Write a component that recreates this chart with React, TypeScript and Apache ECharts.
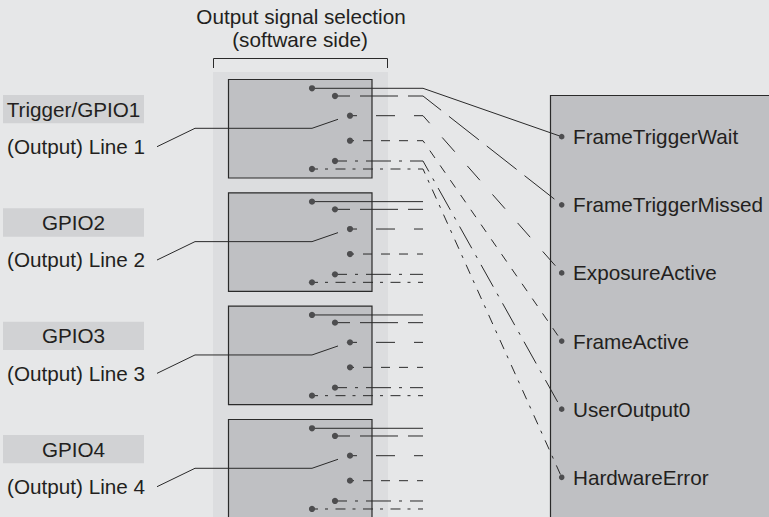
import React, { useEffect, useRef } from "react";
import * as echarts from "echarts";

// ---- content ----
const titleLines = ["Output signal selection", "(software side)"];
const pinLabels = ["Trigger/GPIO1", "GPIO2", "GPIO3", "GPIO4"];
const lineLabels = ["(Output) Line 1", "(Output) Line 2", "(Output) Line 3", "(Output) Line 4"];
const signalNames = [
  "FrameTriggerWait",
  "FrameTriggerMissed",
  "ExposureActive",
  "FrameActive",
  "UserOutput0",
  "HardwareError",
];

export default function App() {
  const ref = useRef<HTMLDivElement>(null);

  useEffect(() => {
    if (!ref.current) return;
    const chart = echarts.init(ref.current, null, { renderer: "svg" });

    const ink = "#2a2a2a";
    const textColor = "#231f20";
    const fontFamily = '"Liberation Sans", Arial, Helvetica, sans-serif';
    const fs = 20.7;

    // layout
    const boxTop0 = 79;
    const boxPitch = 113.33;
    const boxX = 228.5;
    const boxW = 143.5;
    const boxH = 98.5;
    const dotOffsets = [
      [312, 9.3],
      [335, 17],
      [350, 36.7],
      [350, 61.7],
      [335, 82],
      [312, 90],
    ];
    const lineEndX = 423;
    const rightDotX = 561.7;
    const rightDotY0 = 136.7;
    const rightPitch = 68.12;
    const dashStyles: any[] = [
      null,
      { d: [38, 10], o: 23 },
      { d: [19, 19], o: 12 },
      { d: [9, 9], o: 5 },
      { d: [25, 8, 3, 8], o: 13 },
      { d: [10, 7, 3, 7.5], o: 3.5 },
    ];

    const txt = (text: string, x: number, y: number, align: string) => ({
      type: "text",
      x,
      y,
      silent: true,
      style: {
        text,
        x: 0,
        y: 0,
        fill: textColor,
        fontSize: fs,
        fontFamily,
        align,
        verticalAlign: "middle",
        textAlign: align,
        textVerticalAlign: "middle",
      },
    });

    const els: any[] = [];

    // shaded column
    els.push({
      type: "rect",
      silent: true,
      shape: { x: 213, y: 72, width: 175, height: 460 },
      style: { fill: "#dcdddf" },
    });

    // bracket
    els.push({
      type: "polyline",
      silent: true,
      shape: { points: [[213.5, 68], [213.5, 58.5], [387.5, 58.5], [387.5, 68]] },
      style: { stroke: ink, lineWidth: 1, fill: "none" },
    });

    // title
    els.push(txt(titleLines[0], 301, 16.3, "center"));
    els.push(txt(titleLines[1], 300, 39.3, "center"));

    // right box
    els.push({
      type: "rect",
      silent: true,
      shape: { x: 550.5, y: 95.5, width: 260, height: 460 },
      style: { fill: "#bfc0c3", stroke: ink, lineWidth: 1.2 },
    });

    // selector boxes
    pinLabels.forEach((pin, i) => {
      const top = boxTop0 + i * boxPitch;
      els.push({
        type: "rect",
        silent: true,
        shape: { x: boxX, y: top + 0.5, width: boxW, height: boxH },
        style: { fill: "#bfc0c3", stroke: ink, lineWidth: 1.2 },
      });
      // pin label background
      els.push({
        type: "rect",
        silent: true,
        shape: { x: 3, y: top + 16, width: 141, height: 28.3 },
        style: { fill: "#d1d2d4" },
      });
      els.push(txt(pin, 73.5, top + 30.3, "center"));
      els.push(txt(lineLabels[i], 7, top + 67.5, "left"));
      // switch line
      const sy = top + 49.3;
      els.push({
        type: "polyline",
        silent: true,
        shape: {
          points: [
            [157, top + 67.7],
            [195, sy],
            [312, sy],
            [338, sy - 9],
          ],
        },
        style: { stroke: ink, lineWidth: 1, fill: "none" },
      });
      // signal lines
      dotOffsets.forEach(([dx, dy], k) => {
        const y = top + dy;
        const pts: number[][] = [
          [dx, y],
          [lineEndX, y],
        ];
        if (i === 0) pts.push([rightDotX, rightDotY0 + k * rightPitch]);
        const ds = dashStyles[k];
        els.push({
          type: "polyline",
          silent: true,
          shape: { points: pts },
          style: {
            stroke: ink,
            lineWidth: 1,
            fill: "none",
            lineDash: ds ? ds.d : null,
            lineDashOffset: ds ? ds.o : 0,
          },
        });
      });
      dotOffsets.forEach(([dx, dy]) => {
        els.push({
          type: "circle",
          silent: true,
          shape: { cx: dx, cy: top + dy, r: 3.1 },
          style: { fill: "#4d4d4f" },
        });
      });
    });

    // right side signals
    signalNames.forEach((name, k) => {
      const y = rightDotY0 + k * rightPitch;
      els.push({
        type: "circle",
        silent: true,
        shape: { cx: rightDotX, cy: y, r: 2.8 },
        style: { fill: "#4d4d4f" },
      });
      els.push(txt(name, 573, y, "left"));
    });

    chart.setOption({
      animation: false,
      backgroundColor: "#e6e7e8",
      graphic: { elements: els },
    });

    return () => chart.dispose();
  }, []);

  return (
    <div
      ref={ref}
      style={{
        position: "absolute",
        left: 0,
        top: 0,
        width: 769,
        height: 517,
        background: "#e6e7e8",
      }}
    />
  );
}
